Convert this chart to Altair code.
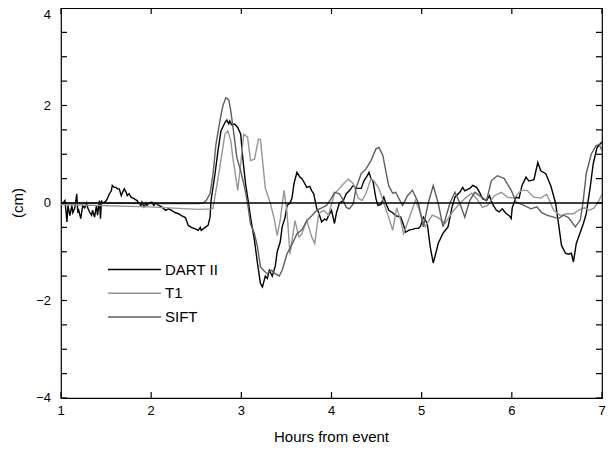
import altair as alt
import pandas as pd

# ---------------- data (hours from event, sea level in cm) ----------------
dart_t = [1.000, 1.022, 1.044, 1.066, 1.077, 1.099, 1.120, 1.131, 1.153, 1.175, 1.186, 1.197,
          1.219, 1.241, 1.263, 1.285, 1.296, 1.318, 1.339, 1.350, 1.372, 1.394, 1.405, 1.427,
          1.438, 1.449, 1.460, 1.482, 1.504, 1.537, 1.558, 1.569, 1.591, 1.613, 1.624, 1.646,
          1.668, 1.679, 1.701, 1.723, 1.734, 1.755, 1.777, 1.810, 1.843, 1.887, 1.898, 1.920,
          1.942, 1.953, 1.974, 2.007, 2.029, 2.051, 2.084, 2.117, 2.161, 2.193, 2.226, 2.270,
          2.303, 2.336, 2.380, 2.412, 2.445, 2.489, 2.522, 2.544, 2.555, 2.599, 2.631, 2.653,
          2.664, 2.708, 2.741, 2.774, 2.818, 2.839, 2.861, 2.872, 2.894, 2.927, 2.960, 2.993,
          3.015, 3.047, 3.080, 3.102, 3.146, 3.179, 3.212, 3.234, 3.266, 3.288, 3.310, 3.343,
          3.376, 3.398, 3.431, 3.453, 3.485, 3.507, 3.540, 3.562, 3.584, 3.617, 3.650, 3.672,
          3.694, 3.726, 3.759, 3.781, 3.803, 3.836, 3.858, 3.891, 3.923, 3.945, 3.967, 4.000,
          4.033, 4.055, 4.088, 4.131, 4.164, 4.197, 4.241, 4.274, 4.329, 4.361, 4.394, 4.416,
          4.438, 4.460, 4.493, 4.515, 4.548, 4.580, 4.602, 4.635, 4.679, 4.712, 4.767, 4.799,
          4.821, 4.865, 4.898, 4.931, 4.964, 4.986, 5.018, 5.062, 5.095, 5.128, 5.161, 5.183,
          5.237, 5.292, 5.314, 5.336, 5.369, 5.423, 5.456, 5.478, 5.511, 5.533, 5.566, 5.610,
          5.642, 5.675, 5.719, 5.752, 5.785, 5.829, 5.861, 5.894, 5.938, 5.971, 5.993, 6.004,
          6.047, 6.080, 6.113, 6.157, 6.190, 6.245, 6.288, 6.321, 6.376, 6.431, 6.485, 6.518,
          6.551, 6.595, 6.628, 6.661, 6.683, 6.715, 6.759, 6.792, 6.825, 6.869, 6.902, 6.945,
          6.978, 7.000]
dart_v = [-0.05, 0.00, 0.05, -0.39, -0.05, -0.26, -0.05, -0.20, -0.10, 0.19, -0.20, -0.15,
          -0.32, -0.05, -0.10, 0.00, -0.10, -0.19, -0.25, -0.15, -0.29, -0.05, -0.25, 0.05,
          -0.32, 0.05, 0.00, 0.02, 0.05, 0.19, 0.25, 0.36, 0.32, 0.32, 0.29, 0.29,
          0.15, 0.20, 0.29, 0.22, 0.15, 0.19, 0.12, 0.09, 0.05, -0.05, 0.02, -0.08,
          0.00, -0.05, 0.00, 0.02, -0.05, 0.00, -0.05, -0.08, -0.15, -0.12, -0.15, -0.20,
          -0.22, -0.26, -0.30, -0.46, -0.50, -0.53, -0.56, -0.50, -0.56, -0.50, -0.46, -0.29,
          0.05, 0.60, 1.07, 1.48, 1.65, 1.70, 1.62, 1.68, 1.60, 1.62, 1.55, 1.41,
          0.94, 0.39, 0.00, -0.29, -0.77, -1.24, -1.65, -1.72, -1.50, -1.55, -1.38, -1.50,
          -1.30, -1.00, -0.80, -0.49, -0.30, -0.05, 0.00, 0.10, 0.40, 0.63, 0.53, 0.50,
          0.43, 0.32, 0.34, 0.25, 0.19, -0.11, -0.20, -0.39, -0.33, -0.35, -0.26, -0.15,
          -0.42, -0.20, 0.00, 0.05, 0.19, 0.25, 0.36, 0.30, 0.30, 0.46, 0.55, 0.63,
          0.50, 0.45, 0.09, -0.05, -0.03, 0.12, 0.00, -0.15, -0.20, -0.26, -0.29, -0.45,
          -0.60, -0.55, -0.54, -0.52, -0.52, -0.48, -0.29, -0.42, -0.90, -1.23, -1.00, -0.83,
          -0.62, -0.49, -0.30, -0.09, 0.12, 0.22, 0.32, 0.25, 0.28, 0.30, 0.36, 0.32,
          0.22, 0.09, 0.05, 0.15, -0.02, -0.15, -0.18, -0.12, -0.22, -0.26, -0.32, -0.10,
          0.12, 0.10, 0.36, 0.53, 0.45, 0.48, 0.83, 0.66, 0.60, 0.36, 0.00, -0.43,
          -0.87, -1.03, -1.05, -1.03, -1.21, -0.83, -0.60, -0.43, -0.22, 0.32, 0.80, 1.14,
          1.21, 1.25]

t1_t = [1.000, 1.427, 1.974, 2.522, 2.664, 2.686, 2.719, 2.763, 2.796, 2.818, 2.850, 2.883,
        2.905, 2.938, 2.960, 2.993, 3.026, 3.069, 3.102, 3.146, 3.190, 3.212, 3.266, 3.321,
        3.365, 3.398, 3.431, 3.474, 3.507, 3.540, 3.595, 3.639, 3.672, 3.726, 3.781, 3.814,
        3.858, 3.913, 3.967, 4.033, 4.088, 4.131, 4.186, 4.241, 4.296, 4.339, 4.383, 4.438,
        4.471, 4.526, 4.580, 4.635, 4.679, 4.723, 4.767, 4.799, 4.854, 4.931, 4.986, 5.040,
        5.117, 5.183, 5.259, 5.336, 5.402, 5.478, 5.555, 5.610, 5.675, 5.730, 5.807, 5.883,
        5.949, 6.025, 6.102, 6.168, 6.245, 6.321, 6.387, 6.464, 6.540, 6.606, 6.683, 6.737,
        6.803, 6.858, 6.913, 6.967, 7.000]
t1_v = [-0.03, -0.05, -0.08, -0.13, -0.12, -0.11, 0.26, 0.75, 1.15, 1.41, 1.48, 1.28,
        0.94, 0.53, 0.26, 0.80, 1.41, 1.35, 0.87, 0.90, 1.31, 1.30, 0.30, 0.00,
        -0.33, -0.67, -0.35, 0.26, -0.20, -1.05, -0.36, -0.70, -0.63, -0.36, -0.70, -0.83,
        -0.22, -0.15, -0.25, 0.19, 0.30, 0.39, 0.49, 0.40, 0.10, 0.05, 0.20, 0.50,
        0.45, 0.30, 0.00, -0.30, -0.56, -0.10, -0.35, -0.63, -0.35, 0.05, -0.20, -0.49,
        -0.25, -0.30, -0.42, -0.20, -0.05, 0.09, 0.20, 0.09, -0.09, -0.05, 0.15, 0.22,
        0.12, 0.10, 0.26, 0.26, 0.12, 0.10, 0.18, -0.15, -0.26, -0.22, -0.22, -0.15,
        -0.10, -0.15, -0.10, 0.05, 0.19]

sift_t = [1.000, 1.427, 1.974, 2.522, 2.577, 2.610, 2.653, 2.686, 2.719, 2.763, 2.796, 2.829,
          2.861, 2.883, 2.927, 2.949, 2.993, 3.036, 3.069, 3.102, 3.146, 3.179, 3.212, 3.256,
          3.288, 3.332, 3.376, 3.420, 3.453, 3.507, 3.562, 3.617, 3.672, 3.726, 3.781, 3.836,
          3.891, 3.945, 4.000, 4.033, 4.088, 4.131, 4.164, 4.197, 4.241, 4.274, 4.329, 4.383,
          4.438, 4.493, 4.526, 4.569, 4.602, 4.635, 4.679, 4.712, 4.745, 4.788, 4.843, 4.898,
          4.964, 5.018, 5.073, 5.128, 5.183, 5.237, 5.314, 5.369, 5.423, 5.478, 5.533, 5.588,
          5.642, 5.719, 5.774, 5.840, 5.916, 5.993, 6.047, 6.135, 6.212, 6.278, 6.332, 6.387,
          6.464, 6.518, 6.573, 6.628, 6.705, 6.759, 6.792, 6.825, 6.880, 6.934, 6.967, 7.000]
sift_v = [0.00, 0.00, -0.01, -0.01, 0.00, 0.05, 0.19, 0.60, 1.21, 1.69, 2.00, 2.16,
          2.12, 1.89, 1.28, 0.94, 0.66, 0.32, 0.00, -0.43, -0.63, -0.90, -1.31, -1.40,
          -1.45, -1.38, -1.45, -1.50, -1.38, -1.04, -0.85, -0.63, -0.55, -0.36, -0.26, -0.15,
          -0.10, -0.05, 0.10, 0.22, 0.19, 0.05, -0.09, -0.12, -0.02, 0.32, 0.60, 0.70,
          0.87, 1.11, 1.14, 0.98, 0.66, 0.35, 0.20, 0.22, 0.10, -0.05, 0.15, 0.26,
          0.00, -0.49, 0.00, 0.36, 0.00, -0.49, 0.00, 0.22, 0.00, -0.29, 0.05, 0.22,
          0.15, 0.05, 0.46, 0.56, 0.50, 0.26, 0.02, -0.05, -0.12, -0.08, -0.20, -0.25,
          -0.29, -0.32, -0.25, -0.30, -0.49, -0.35, 0.05, 0.60, 1.00, 1.18, 1.20, 1.08]

series_names = ["DART II", "T1", "SIFT"]
series_colors = ["#000000", "#959595", "#5e5e5e"]
x_ticks = [1, 2, 3, 4, 5, 6, 7]
x_tick_labels = ["1", "2", "3", "4", "5", "6", "7"]
y_ticks = [-4, -3.5, -3, -2.5, -2, -1.5, -1, -0.5, 0, 0.5, 1, 1.5, 2, 2.5, 3, 3.5, 4]
y_label_values = [-4, -2, 0, 2]
y_label_text = ["\u22124", "\u22122", "0", "2"]
y_top_value = [4]
y_top_text = ["4"]
x_title = "Hours from event"
y_title = "(cm)"
zero_level = [0]

rows = []
for name, ts, vs in [("DART II", dart_t, dart_v), ("T1", t1_t, t1_v), ("SIFT", sift_t, sift_v)]:
    for t, v in zip(ts, vs):
        rows.append({"t": t, "v": v, "series": name})
df = pd.DataFrame(rows)
xt_df = pd.DataFrame({"t": x_ticks, "label": x_tick_labels})
yt_df = pd.DataFrame({"v": y_ticks})
yl_df = pd.DataFrame({"v": y_label_values, "label": y_label_text})
ytop_df = pd.DataFrame({"v": y_top_value, "label": y_top_text})
zero_df = pd.DataFrame({"v": zero_level})

W, H, TL = 541, 390, 6
FONT = "Liberation Sans"
xscale = alt.Scale(domain=[1, 7], nice=False, zero=False)
yscale = alt.Scale(domain=[-4, 4], nice=False, zero=False)

X = lambda f: alt.X(f, scale=xscale, axis=None)
Y = lambda f: alt.Y(f, scale=yscale, axis=None)

lines = alt.Chart(df).mark_line(strokeWidth=1.4, clip=True).encode(
    x=X("t:Q"), y=Y("v:Q"),
    color=alt.Color("series:N",
                    scale=alt.Scale(domain=series_names, range=series_colors),
                    legend=alt.Legend(title=None, orient="none", legendX=46, legendY=251,
                                      symbolType="stroke", symbolSize=2800,
                                      symbolStrokeWidth=1.5, clipHeight=21, rowPadding=2.8,
                                      labelFont=FONT, labelFontSize=15, labelColor="black",
                                      labelOffset=3, padding=0)),
)

tick_style = dict(color="black", strokeWidth=1.2)
left_ticks = alt.Chart(yt_df).mark_rule(**tick_style).encode(
    y=Y("v:Q"), x=alt.value(0), x2=alt.value(TL))
right_ticks = alt.Chart(yt_df).mark_rule(**tick_style).encode(
    y=Y("v:Q"), x=alt.value(W - TL), x2=alt.value(W))
bottom_ticks = alt.Chart(xt_df).mark_rule(**tick_style).encode(
    x=X("t:Q"), y=alt.value(H - TL), y2=alt.value(H))
top_ticks = alt.Chart(xt_df).mark_rule(**tick_style).encode(
    x=X("t:Q"), y=alt.value(0), y2=alt.value(TL))

zero = alt.Chart(zero_df).mark_rule(color="black", strokeWidth=1.5).encode(y=Y("v:Q"))

txt = dict(font=FONT, color="black")
x_labels = alt.Chart(xt_df).mark_text(fontSize=13, align="center", baseline="top", **txt).encode(
    x=X("t:Q"), y=alt.value(H + 7), text="label:N")
y_labels = alt.Chart(yl_df).mark_text(fontSize=13, align="right", baseline="middle", **txt).encode(
    y=Y("v:Q"), x=alt.value(-10), text="label:N")
y_top_label = alt.Chart(ytop_df).mark_text(fontSize=13, align="right", baseline="top", dy=1, **txt).encode(
    y=Y("v:Q"), x=alt.value(-10), text="label:N")
x_title_mark = alt.Chart(pd.DataFrame({"label": [x_title]})).mark_text(
    fontSize=15, align="center", baseline="middle", **txt).encode(
    x=alt.value(W / 2), y=alt.value(H + 39), text="label:N")
y_title_mark = alt.Chart(pd.DataFrame({"label": [y_title]})).mark_text(
    fontSize=15, align="center", baseline="middle", angle=270, **txt).encode(
    x=alt.value(-43), y=alt.value(H / 2), text="label:N")

chart = alt.layer(lines, zero, left_ticks, right_ticks, bottom_ticks, top_ticks,
                  x_labels, y_labels, y_top_label, x_title_mark, y_title_mark).properties(
    width=W, height=H,
    autosize=alt.AutoSizeParams(type="none"),
    padding={"left": 53, "top": 0, "right": 4, "bottom": 47},
    background="white",
).configure_view(stroke="black", strokeWidth=1.2)

chart.save("out.html", embed_options={"renderer": "svg", "actions": False})
